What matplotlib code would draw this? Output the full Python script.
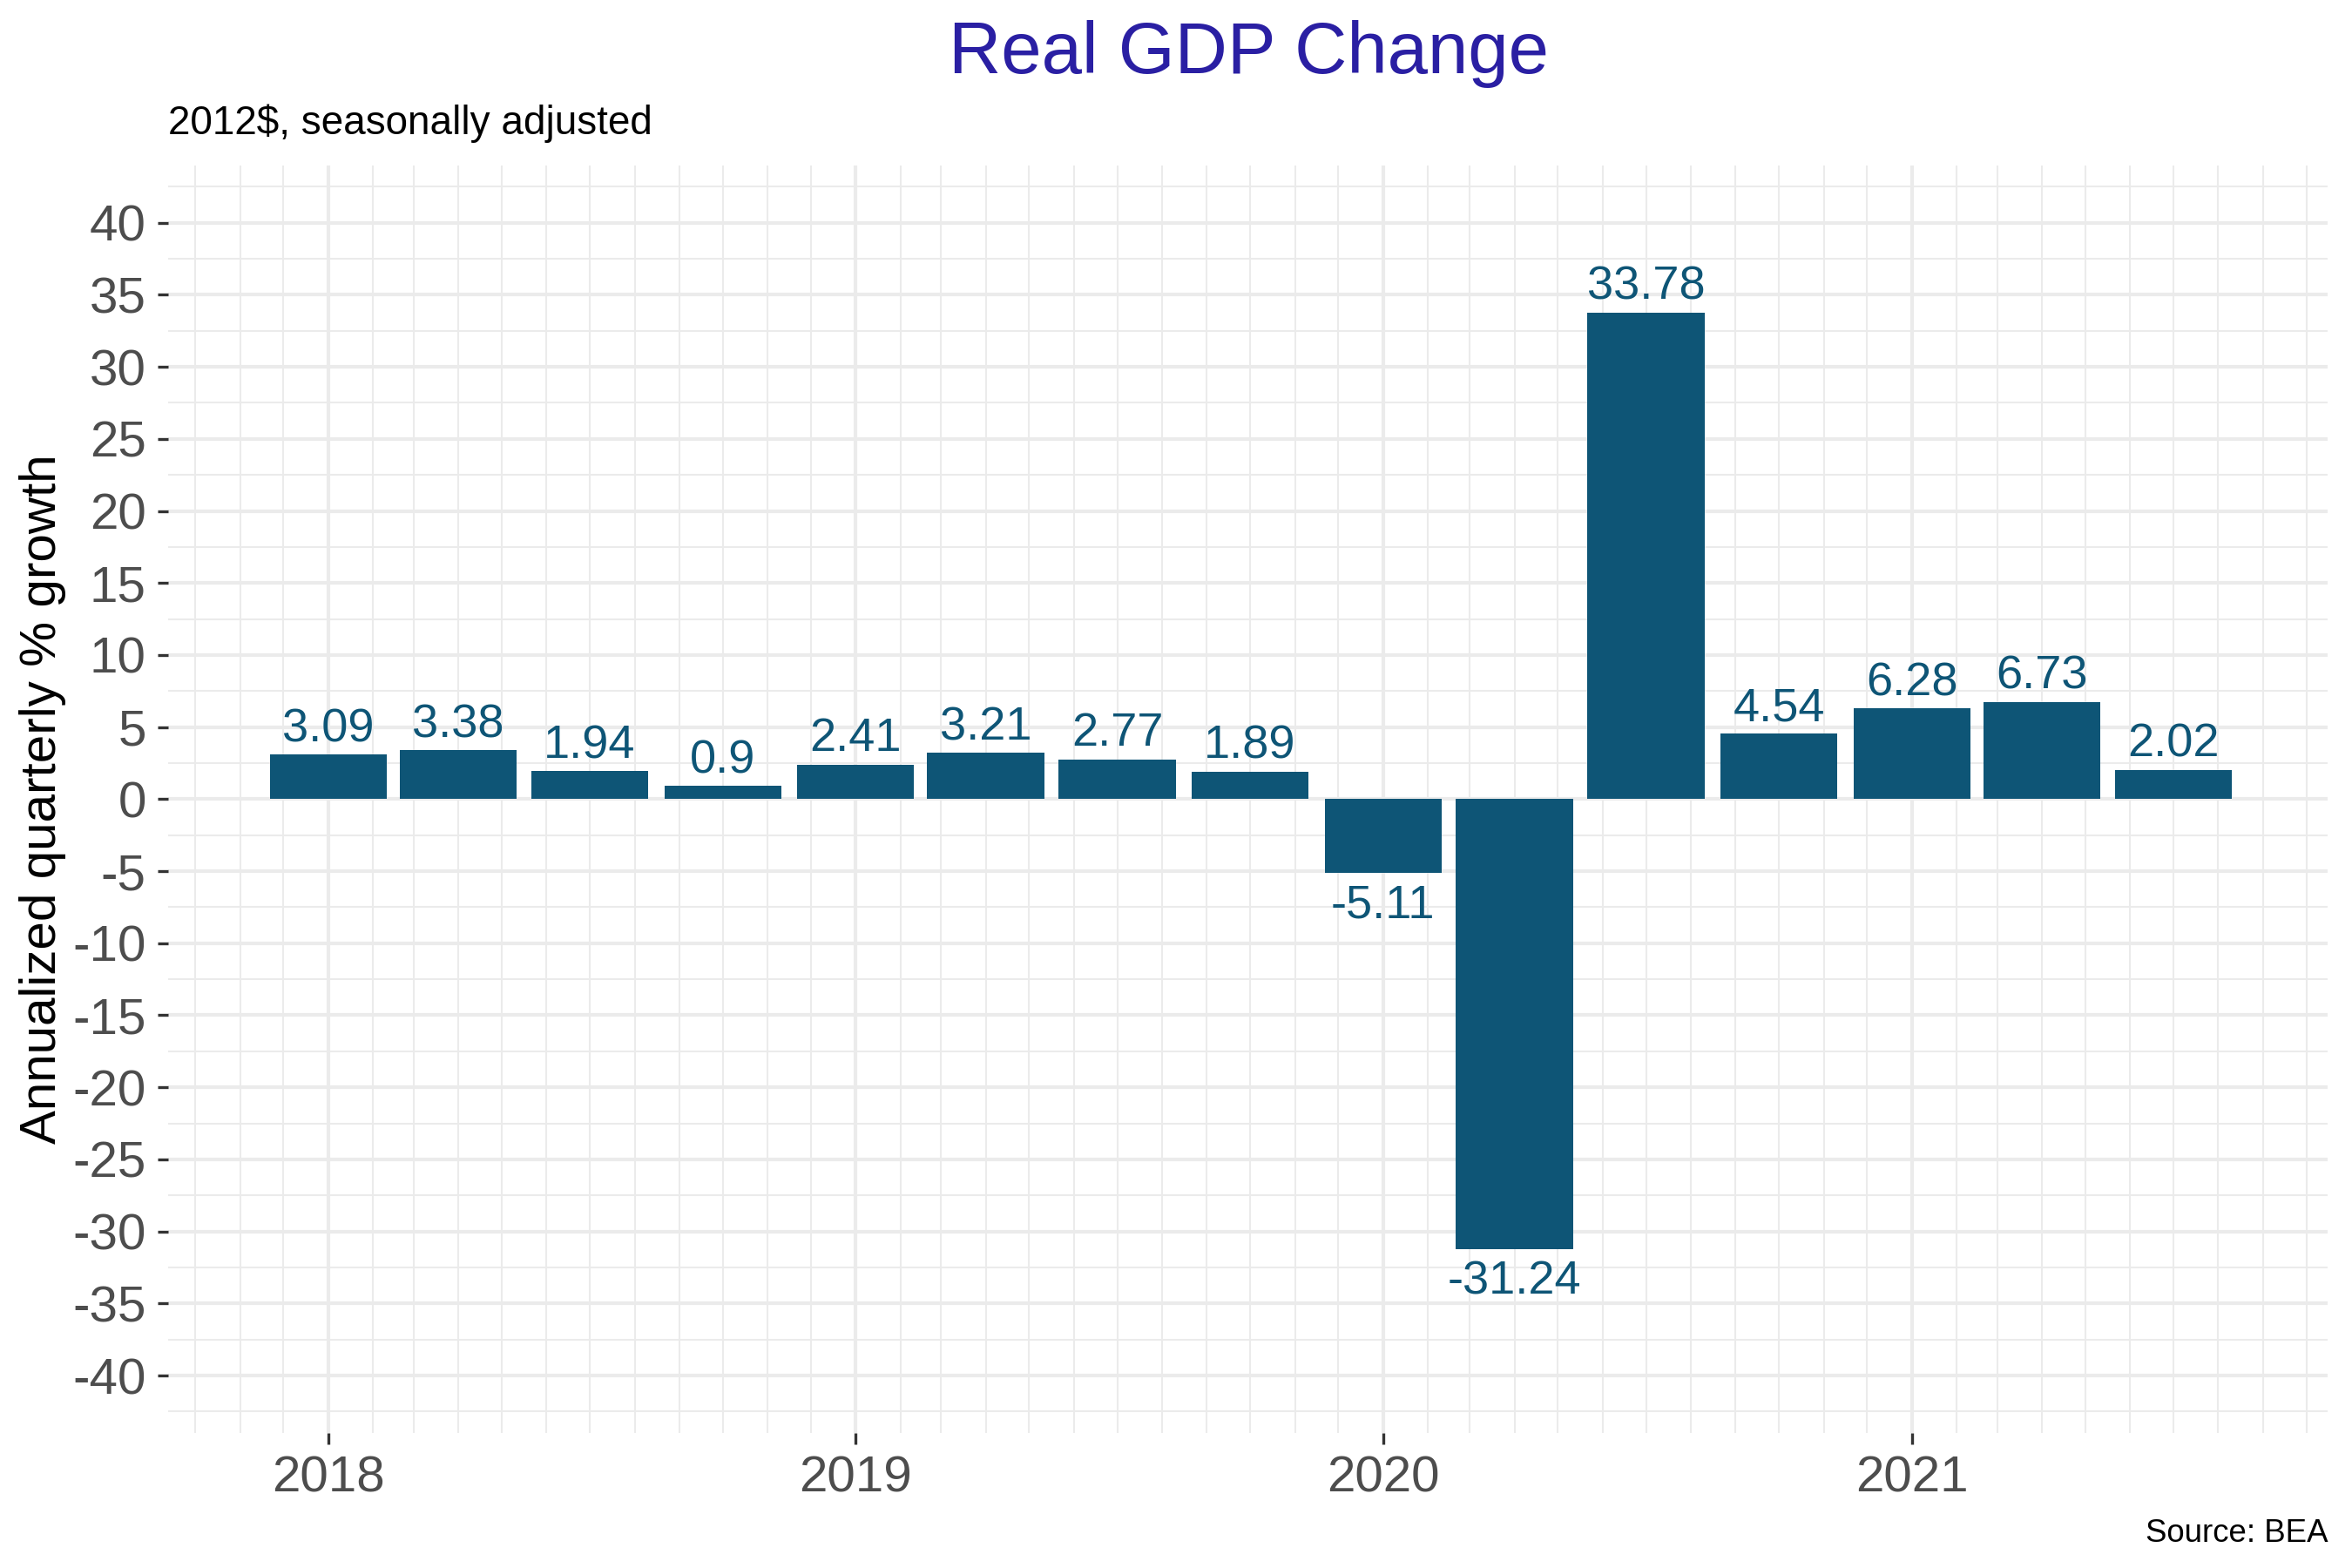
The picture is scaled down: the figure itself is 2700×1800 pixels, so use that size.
import matplotlib
matplotlib.use('Agg')
import matplotlib.pyplot as plt
import matplotlib.dates as mdates
import numpy as np
import pandas as pd

plt.rcParams['font.family'] = ['Liberation Sans', 'DejaVu Sans']
plt.rcParams['axes.unicode_minus'] = False

# quarterly real GDP change (annualized %)
quarters = ['2018-01-01', '2018-04-01', '2018-07-01', '2018-10-01',
            '2019-01-01', '2019-04-01', '2019-07-01', '2019-10-01',
            '2020-01-01', '2020-04-01', '2020-07-01', '2020-10-01',
            '2021-01-01', '2021-04-01', '2021-07-01']
growth = [3.09, 3.38, 1.94, 0.9, 2.41, 3.21, 2.77, 1.89,
          -5.11, -31.24, 33.78, 4.54, 6.28, 6.73, 2.02]
labels = ['3.09', '3.38', '1.94', '0.9', '2.41', '3.21', '2.77', '1.89',
          '-5.11', '-31.24', '33.78', '4.54', '6.28', '6.73', '2.02']

dates = pd.to_datetime(quarters)
bar_col = '#0E5576'

fig = plt.figure(figsize=(9, 6), dpi=300)
ax = fig.add_axes([0.0714, 0.086, 0.9184, 0.8087])

ax.bar(dates, growth, width=81, color=bar_col, zorder=3)

for d, v, t in zip(dates, growth, labels):
    if v >= 0:
        ax.annotate(t, (d, v), xytext=(0, 1), textcoords='offset points',
                    ha='center', va='bottom', fontsize=13, color=bar_col, zorder=4)
    else:
        ax.annotate(t, (d, v), xytext=(0, -3), textcoords='offset points',
                    ha='center', va='top', fontsize=13, color=bar_col, zorder=4)

# axes limits (ggplot-like expansion)
ax.set_ylim(-44, 44)
ax.set_xlim(pd.Timestamp('2017-09-12'), pd.Timestamp('2021-10-16'))

ax.set_yticks(np.arange(-40, 41, 5))
ax.set_yticks(np.arange(-42.5, 43, 2.5), minor=True)
ax.xaxis.set_major_locator(mdates.YearLocator())
ax.xaxis.set_major_formatter(mdates.DateFormatter('%Y'))
ax.xaxis.set_minor_locator(mdates.MonthLocator())

ax.grid(which='major', color='#EBEBEB', linewidth=1.0, zorder=0)
ax.grid(which='minor', color='#EBEBEB', linewidth=0.5, zorder=0)
ax.set_axisbelow(True)

for s in ax.spines.values():
    s.set_visible(False)

ax.tick_params(which='major', length=3, width=0.8, color='#333333',
               labelsize=14, labelcolor='#4D4D4D', pad=3)
ax.tick_params(which='minor', length=0)

ax.set_ylabel('Annualized quarterly % growth', fontsize=14, labelpad=1.7)

fig.suptitle('Real GDP Change', x=0.531, y=0.987, va='top', fontsize=20, color='#2A1FA3')
fig.text(0.0714, 0.921, '2012$, seasonally adjusted', fontsize=11, ha='left', va='center')
fig.text(0.9898, 0.022, 'Source: BEA', fontsize=8.8, ha='right', va='center')

fig.savefig('out.png', dpi=300, facecolor='white')
